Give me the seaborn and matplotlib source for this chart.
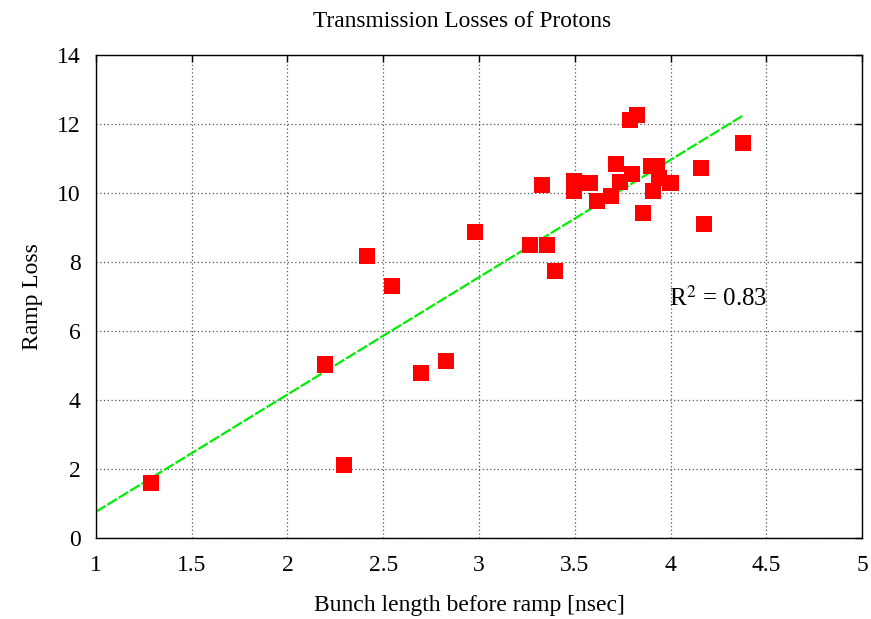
import numpy as np
import pandas as pd
import matplotlib
matplotlib.use("Agg")
import matplotlib.pyplot as plt
import seaborn as sns

# Data
bunch_length = [1.287, 2.196, 2.296, 2.416, 2.547, 2.698, 2.829, 2.979,
                3.268, 3.330, 3.357, 3.398, 3.497, 3.497, 3.580, 3.618,
                3.690, 3.717, 3.738, 3.800, 3.790, 3.826, 3.858, 3.900,
                3.930, 3.940, 3.910, 4.000, 4.161, 4.177, 4.380]
ramp_loss = [1.60, 5.03, 2.12, 8.17, 7.30, 4.77, 5.12, 8.87,
             8.49, 10.23, 8.49, 7.73, 10.35, 10.06, 10.29, 9.77,
             9.91, 10.84, 10.32, 10.55, 12.12, 12.27, 9.42, 10.78,
             10.78, 10.44, 10.06, 10.29, 10.73, 9.10, 11.45]
fit_slope = 3.40
fit_intercept = -2.64
fit_x = [1.0, 4.38]
r2_text = "R$^{2}$ = 0.83"
x_ticks = [1, 1.5, 2, 2.5, 3, 3.5, 4, 4.5, 5]
x_tick_labels = ["1", "1.5", "2", "2.5", "3", "3.5", "4", "4.5", "5"]
y_ticks = [0, 2, 4, 6, 8, 10, 12, 14]

sns.set_theme(style="white")
plt.rcParams['font.family'] = ['Liberation Serif', 'DejaVu Serif']
plt.rcParams['mathtext.fontset'] = 'stix'
plt.rcParams['text.color'] = 'black'
plt.rcParams['axes.labelcolor'] = 'black'
plt.rcParams['xtick.color'] = 'black'
plt.rcParams['ytick.color'] = 'black'

fig = plt.figure(figsize=(8.71, 6.19), dpi=100)
ax = fig.add_axes([0.1102, 0.1309, 0.8795, 0.7802])

df = pd.DataFrame({"x": bunch_length, "y": ramp_loss})
fit_df = pd.DataFrame({"x": fit_x,
                       "y": [fit_slope * v + fit_intercept for v in fit_x]})

sns.lineplot(data=fit_df, x="x", y="y", ax=ax, color="#00ee00", lw=1.6,
             linestyle=(0, (5, 1)), zorder=2)
sns.scatterplot(data=df, x="x", y="y", ax=ax, marker="s", s=135,
                color="#ff0000", edgecolor="none", linewidth=0, zorder=3)

ax.set_xlim(1, 5)
ax.set_ylim(0, 14)
ax.set_xticks(x_ticks)
ax.set_xticklabels(x_tick_labels)
ax.set_yticks(y_ticks)
ax.grid(True, color="#555555", linestyle=(0, (1, 2)), linewidth=0.9)
ax.tick_params(direction="in", length=5, width=1, top=True, right=True,
               labelsize=17, colors="black")
ax.tick_params(axis="x", pad=12.5)
ax.tick_params(axis="y", pad=11)
for s in ax.spines.values():
    s.set_color("black")
    s.set_linewidth(1.0)

ax.set_xlabel("Bunch length before ramp [nsec]", fontsize=17, color="black")
ax.xaxis.set_label_coords(0.488, -0.118)
ax.set_ylabel("Ramp Loss", fontsize=17, labelpad=10, color="black")
ax.set_title("Transmission Losses of Protons", fontsize=16.8, pad=20, x=0.478,
             color="black")
ax.text(3.99, 6.95, r2_text, fontsize=18, ha="left", va="center", color="black")

fig.savefig("out.png", dpi=100)
